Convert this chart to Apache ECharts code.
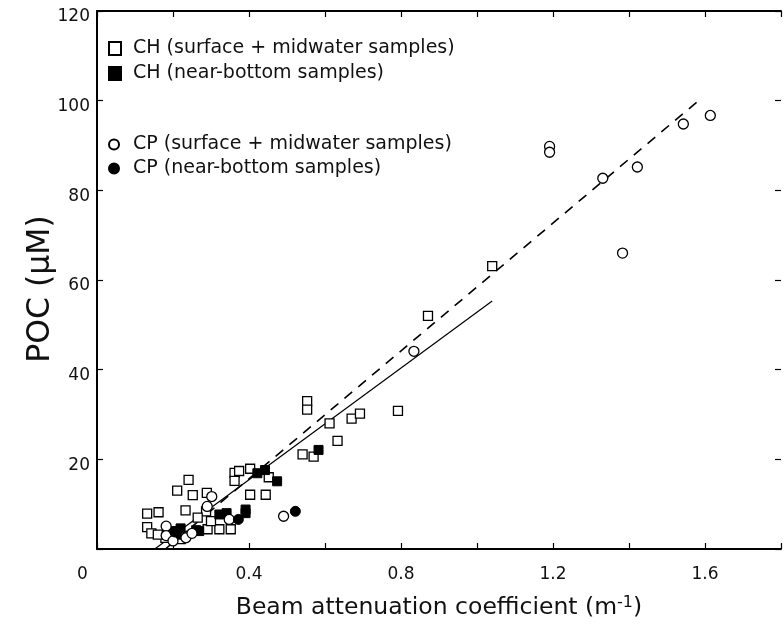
<!DOCTYPE html>
<html><head><meta charset="utf-8">
<script src="https://cdn.jsdelivr.net/npm/echarts@6/dist/echarts.min.js"></script>
<style>html,body{margin:0;padding:0;background:#fff}#c{width:784px;height:625px}</style>
</head><body><div id="c"></div>
<script>
// x = beam attenuation coefficient (m^-1), y = POC (uM)
const chOpen = [[0.132,7.9],[0.162,8.2],[0.132,4.9],[0.143,3.5],[0.18,2.5],[0.2,3.0],[0.16,3.2],[0.22,2.2],
 [0.211,13.0],[0.241,15.4],[0.252,12.0],[0.289,12.5],[0.233,8.6],[0.287,8.4],[0.265,7.0],
 [0.362,17.0],[0.362,15.2],[0.374,17.4],[0.403,17.9],[0.452,16.0],[0.403,12.1],[0.444,12.1],
 [0.291,4.4],[0.322,4.4],[0.352,4.4],[0.30,6.2],
 [0.541,21.1],[0.570,20.6],[0.553,33.0],[0.553,31.1],[0.612,28.0],[0.633,24.1],[0.670,29.1],[0.692,30.2],
 [0.792,30.8],[0.871,52.0],[1.04,63.1]];
const chFilled = [[0.20,4.0],[0.21,3.2],[0.22,4.6],[0.261,4.2],[0.269,4.0],[0.322,7.7],[0.341,8.0],
 [0.391,8.8],[0.391,8.0],[0.422,16.9],[0.442,17.6],[0.474,15.1],[0.583,22.1]];
const cpOpen = [[0.182,5.1],[0.182,3.0],[0.234,2.5],[0.20,1.8],[0.25,3.5],[0.302,11.7],[0.29,9.5],[0.348,6.6],
 [0.491,7.3],[0.834,44.1],[1.191,89.8],[1.191,88.5],[1.331,82.7],[1.422,85.2],[1.543,94.8],[1.614,96.7],[1.383,66.0]];
const cpFilled = [[0.372,6.6],[0.522,8.4],[0.205,3.8]];
const fitCH = [[0.152,0],[1.04,55.3]];
const fitCP = [[0.18,0],[1.59,100.5]];
const xTickLabels = ['0.4','0.8','1.2','1.6'];
const yTickLabels = ['20','40','60','80','100','120'];
const names = ['CH (surface + midwater samples)','CH (near-bottom samples)','CP (surface + midwater samples)','CP (near-bottom samples)'];

const FONT = 'DejaVu Sans, sans-serif';
const INK = '#111';
const chart = echarts.init(document.getElementById('c'));
const axLine = {onZero:false,lineStyle:{color:'#000',width:2}};
const tick = {show:true,inside:true,length:6,lineStyle:{color:'#000',width:1.2}};
chart.setOption({
  animation:false,
  grid:{left:97,width:689,top:11,bottom:72,containLabel:false},
  xAxis:[{type:'value',min:0,max:1.8,interval:0.2,position:'bottom',
    axisLine:axLine,axisTick:tick,splitLine:{show:false},
    axisLabel:{margin:17,fontSize:17,color:INK,fontFamily:FONT,
      formatter:v=>{const s=v.toFixed(1);return xTickLabels.includes(s)?s:'';}},
    name:'{a|Beam attenuation coefficient (m}{s|-1}{a|)}',nameLocation:'middle',nameGap:46,
    nameTextStyle:{rich:{a:{fontSize:23.5,fontFamily:FONT,color:INK},s:{fontSize:16,fontFamily:FONT,color:INK,verticalAlign:'top',padding:[0,0,10,0]}}}},
   {type:'value',min:0,max:1.8,interval:0.2,position:'top',axisLine:axLine,axisTick:tick,axisLabel:{show:false},splitLine:{show:false}}],
  yAxis:[{type:'value',min:0,max:120,interval:20,position:'left',
    axisLine:axLine,axisTick:tick,splitLine:{show:false},
    axisLabel:{margin:7,fontSize:17,color:INK,fontFamily:FONT,verticalAlign:'top',lineHeight:12,
      formatter:v=>yTickLabels.includes(String(v))?String(v):''}},
   {type:'value',min:0,max:120,interval:20,position:'right',axisLine:{show:false,onZero:false},axisTick:tick,axisLabel:{show:false},splitLine:{show:false}}],
  legend:[{data:[names[0],names[1]],orient:'vertical',left:103,top:34,itemWidth:12,itemHeight:13,itemGap:6,
     textStyle:{fontSize:19,fontFamily:FONT,color:INK,padding:[0,0,0,7]}},
   {data:[names[2],names[3]],orient:'vertical',left:103,top:130,itemWidth:10,itemHeight:10,itemGap:5,
     textStyle:{fontSize:19,fontFamily:FONT,color:INK,padding:[0,0,0,9]}}],
  graphic:[
    {type:'text',left:77,top:566,style:{text:'0',fontSize:17,fontFamily:FONT,fill:INK}},
    {type:'text',x:41,y:289,rotation:Math.PI/2,style:{text:'POC (\u03BCM)',fontSize:31.5,fontFamily:FONT,fill:INK,align:'center',verticalAlign:'middle'}}
  ],
  series:[
    {type:'line',data:fitCH,symbol:'none',lineStyle:{color:'#000',width:1.2},z:1},
    {type:'line',data:fitCP,symbol:'none',lineStyle:{color:'#000',width:1.6,type:[10,8]},z:1},
    {name:names[0],type:'scatter',data:chOpen,symbol:'rect',symbolSize:9,itemStyle:{color:'#fff',borderColor:'#000',borderWidth:1.3,opacity:1}},
    {name:names[1],type:'scatter',data:chFilled,symbol:'rect',symbolSize:9,itemStyle:{color:'#000',borderColor:'#000',borderWidth:1,opacity:1}},
    {name:names[2],type:'scatter',data:cpOpen,symbol:'circle',symbolSize:10,itemStyle:{color:'#fff',borderColor:'#000',borderWidth:1.3,opacity:1}},
    {name:names[3],type:'scatter',data:cpFilled,symbol:'circle',symbolSize:10,itemStyle:{color:'#000',borderColor:'#000',borderWidth:1,opacity:1}}
  ]
});
</script></body></html>
